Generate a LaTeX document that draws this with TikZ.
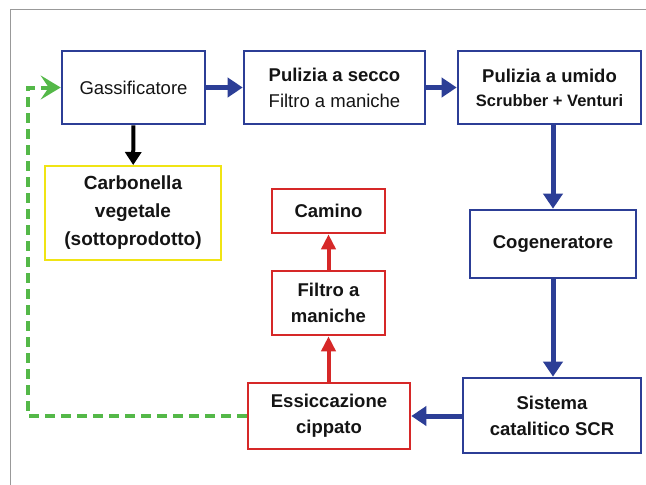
\documentclass[tikz,border=0pt]{standalone}
\usepackage{fontspec}
\setmainfont{Liberation Sans}
\usetikzlibrary{arrows.meta}
\definecolor{bblue}{RGB}{44,62,150}
\definecolor{rred}{RGB}{214,40,40}
\definecolor{yyel}{RGB}{240,228,20}
\definecolor{ggreen}{RGB}{84,184,72}
\definecolor{txt}{RGB}{20,20,20}
\begin{document}
\begin{tikzpicture}[x=1pt,y=-1pt,
  boxbase/.style={draw,rectangle,line width=2.6pt,align=center,text=txt,inner sep=0pt,
    font=\fontsize{18.5}{26}\selectfont\bfseries},
  bluebox/.style={boxbase,draw=bblue},
  redbox/.style={boxbase,draw=rred},
  yelbox/.style={boxbase,draw=yyel,line width=2pt,font=\fontsize{19}{28}\selectfont\bfseries},
  bluearr/.style={draw=bblue,line width=5pt,-{Triangle[length=15pt,width=19pt]}},
  redarr/.style={draw=rred,line width=4pt,-{Triangle[length=15pt,width=14pt]}},
  blackarr/.style={draw=black,line width=4pt,-{Triangle[length=13pt,width=16pt]}},
  greenarr/.style={draw=ggreen,line width=4pt,dash pattern=on 10pt off 6pt,
    -{Stealth[length=20pt,width=24pt,inset=8pt]}}
]
\useasboundingbox (0,0) rectangle (646,485);
\draw[gray!80,line width=1pt] (10,485) -- (10,9) -- (646,9);

\node[bluebox,minimum width=143pt,minimum height=73pt] (gas) at (133.5,87.5)
  {\mdseries Gassificatore};
\node[bluebox,minimum width=181pt,minimum height=73pt] (secco) at (334.5,87.5)
  {Pulizia a secco\\\mdseries Filtro a maniche};
\node[bluebox,minimum width=183pt,minimum height=73pt] (umido) at (549.5,87.5)
  {Pulizia a umido\\[-2pt]{\fontsize{16.5}{18}\selectfont Scrubber + Venturi}};
\node[yelbox,minimum width=176pt,minimum height=94pt] (carb) at (133,213)
  {Carbonella\\vegetale\\(sottoprodotto)};
\node[redbox,minimum width=113pt,minimum height=44pt] (cam) at (328.5,211) {Camino};
\node[redbox,minimum width=113pt,minimum height=64pt] (filt) at (328.5,303)
  {Filtro a\\maniche};
\node[bluebox,minimum width=166pt,minimum height=68pt] (cog) at (553,244) {Cogeneratore};
\node[redbox,minimum width=162pt,minimum height=66pt] (ess) at (329,416)
  {Essiccazione\\cippato};
\node[bluebox,minimum width=178pt,minimum height=75pt] (scr) at (552,415.5)
  {Sistema\\catalitico SCR};

\draw[bluearr] (gas) -- (secco);
\draw[bluearr] (secco) -- (umido);
\draw[bluearr] (umido.south -| cog.north) -- (cog);
\draw[bluearr] (cog) -- (cog.south |- scr.north);
\draw[bluearr] (scr.west |- ess.east) -- (ess);
\draw[blackarr] (gas) -- (carb);
\draw[redarr] (ess.north -| filt.south) -- (filt);
\draw[redarr] (filt) -- (cam);
\coordinate (gl) at (28,416);
\draw[greenarr] (ess.west) -- (gl) -- (gl |- gas.west) -- (gas.west);
\end{tikzpicture}
\end{document}
